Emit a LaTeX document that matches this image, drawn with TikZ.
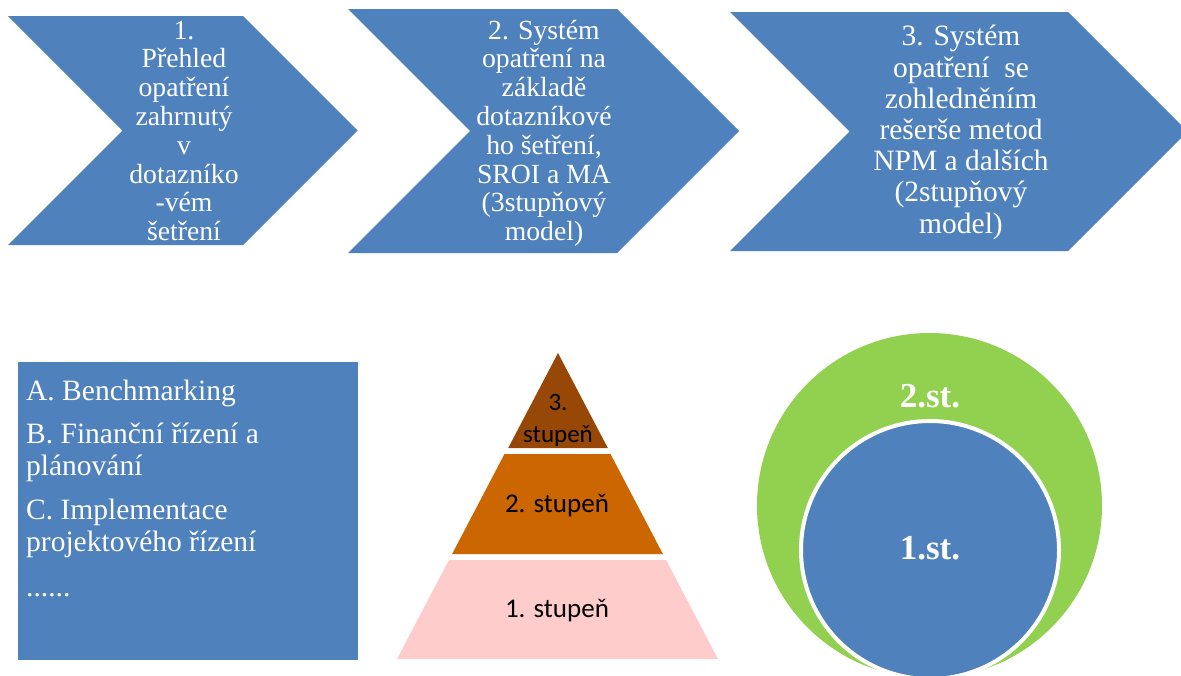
\documentclass[tikz,border=0pt]{standalone}
\usepackage{fontspec}
\setmainfont{Liberation Serif}
\newfontfamily\stepfont{Carlito}
\definecolor{chevblue}{RGB}{79,129,189}
\definecolor{stepthree}{RGB}{151,71,6}
\definecolor{steptwo}{RGB}{204,102,0}
\definecolor{stepone}{RGB}{255,204,204}
\definecolor{ringgreen}{RGB}{146,208,80}
\tikzset{
  chevtext/.style={anchor=base, align=center, inner sep=0pt, text=white,
    font=\fontsize{27.7}{28.8}\selectfont},
  steptext/.style={anchor=base, align=center, inner sep=0pt, text=black},
  ringtext/.style={anchor=base, inner sep=0pt, text=white,
    font=\bfseries\fontsize{35}{40}\selectfont},
}
\begin{document}
\begin{tikzpicture}[x=1pt,y=-1pt]
\useasboundingbox (0,0) rectangle (1181,675);
\fill[white] (0,0) rectangle (1181,675);
\clip (0,0) rectangle (1181,675);

% process chevrons (text nodes are anchored at the baseline of their last line)
\fill[chevblue] (8,16) -- (243,16) -- (357.5,130.5) -- (243,245) -- (8,245) -- (122.5,130.5) -- cycle;
\fill[chevblue] (348,9) -- (617,9) -- (739,131) -- (617,253) -- (348,253) -- (470,131) -- cycle;
\fill[chevblue] (730,12) -- (1068,12) -- (1187.5,131.5) -- (1068,251) -- (730,251) -- (849.5,131.5) -- cycle;

\node[chevtext] (c1) at (184,240.7) {1.\\Přehled\\opatření\\zahrnutý\\v\\dotazníko\\-vém\\šetření};
\node[chevtext] (c2) at (544,240.7) {2. Systém\\opatření na\\základě\\dotazníkové\\ho šetření,\\SROI a MA\\(3stupňový\\model)};
\node[chevtext, font=\fontsize{29.5}{31.2}\selectfont] (c3) at (961,233)
  {3. Systém\\opatření~ se\\zohledněním\\rešerše metod\\NPM a dalších\\(2stupňový\\model)};

% list of areas
\fill[chevblue] (18,362) rectangle (358,660);
\node[anchor=base west, align=left, inner sep=0pt, text=white,
  font=\fontsize{29.5}{32.4}\selectfont] (list) at (26,596.7)
  {A. Benchmarking\\[11pt]B. Finanční řízení a\\plánování\\[11pt]C. Implementace\\projektového řízení\\[12.6pt]......};

% three-level pyramid
\fill[stepthree] (558,353) -- (607.8,448) -- (508.2,448) -- cycle;
\fill[steptwo] (504.5,454) -- (610.5,454) -- (662.9,554) -- (452.1,554) -- cycle;
\fill[stepone] (448.9,560) -- (666.1,560) -- (718,659) -- (397,659) -- cycle;
\node[steptext, font=\stepfont\fontsize{25}{31.6}\selectfont] (p3) at (558,442.5) {3.\\stupeň};
\node[steptext, font=\stepfont\fontsize{27}{30}\selectfont] (p2) at (557,512.3) {2. stupeň};
\node[steptext, font=\stepfont\fontsize{27}{30}\selectfont] (p1) at (557,617.5) {1. stupeň};

% two-level circles
\fill[ringgreen] (929.5,505.5) circle[radius=172.5];
\filldraw[fill=chevblue, draw=white, line width=4pt] (930,550) circle[radius=129];
\node[ringtext] (r2) at (930,407) {2.st.};
\node[ringtext] (r1) at (930,559) {1.st.};
\end{tikzpicture}
\end{document}
